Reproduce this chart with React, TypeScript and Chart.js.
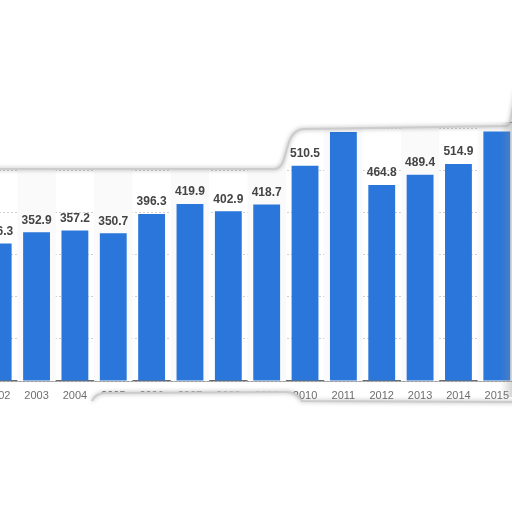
import { useEffect, useRef } from 'react';
import { Chart, registerables } from 'chart.js';

Chart.register(...registerables);

const YEARS = ['2002', '2003', '2004', '2005', '2006', '2007', '2008', '2009', '2010', '2011', '2012', '2013', '2014', '2015'];
const VALUES = [326.3, 352.9, 357.2, 350.7, 396.3, 419.9, 402.9, 418.7, 510.5, 590.6, 464.8, 489.4, 514.9, 592.1];
const Y_MAX = 700;
const Y_STEP = 100;

// the canvas is larger than the window and shifted, so the picture is a cut-out
const WRAP = { left: -22, top: 86, width: 539, height: 325 };

const PALETTE = {
  bar: '#2a76da',
  label: '#444444',
  tick: '#6f6f6f',
  axis: '#6a6a6a',
  grid: '#cfcfcf',
  stripe: '#fafafa',
  edge: '#cccccc',
} as const;

const stripes = {
  id: 'stripes',
  beforeDatasetsDraw(chart: Chart) {
    const { ctx, chartArea } = chart;
    const x = chart.scales.x;
    const band = chartArea.width / YEARS.length;
    ctx.save();
    ctx.fillStyle = PALETTE.stripe;
    YEARS.forEach((_, i) => {
      if (i % 2 === 1) ctx.fillRect(x.getPixelForValue(i) - band / 2, chartArea.top, band, chartArea.height);
    });
    ctx.restore();
  },
};

const valueLabels = {
  id: 'valueLabels',
  afterDatasetsDraw(chart: Chart) {
    const { ctx } = chart;
    const meta = chart.getDatasetMeta(0);
    ctx.save();
    ctx.font = 'bold 12px "Liberation Sans", Arial, sans-serif';
    ctx.fillStyle = PALETTE.label;
    ctx.textAlign = 'center';
    ctx.textBaseline = 'bottom';
    meta.data.forEach((el: any, i: number) => {
      ctx.fillText(VALUES[i].toFixed(1), el.x, el.y - 6);
    });
    ctx.restore();
  },
};

// torn-paper edges around the cut-out, drawn in window pixels
const tornEdges = {
  id: 'tornEdges',
  afterDraw(chart: Chart) {
    const { ctx } = chart;
    const topEdge = () => {
      ctx.moveTo(-5, 169);
      ctx.lineTo(274, 169);
      ctx.bezierCurveTo(290, 169, 282, 131, 303, 129);
      ctx.lineTo(507, 126);
      ctx.quadraticCurveTo(510, 126, 512, 112);
      ctx.lineTo(516, 90);
    };
    const bottomEdge = () => {
      ctx.moveTo(92, 401);
      ctx.quadraticCurveTo(95, 394, 104, 393);
      ctx.lineTo(286, 392);
      ctx.quadraticCurveTo(296, 392, 302, 401);
      ctx.lineTo(520, 402);
    };
    ctx.save();
    ctx.translate(-WRAP.left, -WRAP.top);

    ctx.fillStyle = '#ffffff';
    ctx.beginPath();
    topEdge();
    ctx.lineTo(520, -200);
    ctx.lineTo(-5, -200);
    ctx.closePath();
    ctx.fill();

    ctx.beginPath();
    bottomEdge();
    ctx.lineTo(520, 600);
    ctx.lineTo(92, 600);
    ctx.closePath();
    ctx.fill();

    ctx.strokeStyle = PALETTE.edge;
    ctx.lineWidth = 2;
    ctx.shadowColor = 'rgba(0,0,0,0.35)';
    ctx.shadowBlur = 4;
    ctx.beginPath();
    topEdge();
    ctx.stroke();
    ctx.beginPath();
    bottomEdge();
    ctx.stroke();

    ctx.shadowBlur = 0;
    const g = ctx.createLinearGradient(500, 0, 512, 0);
    g.addColorStop(0, 'rgba(140,140,140,0)');
    g.addColorStop(1, 'rgba(140,140,140,0.35)');
    ctx.fillStyle = g;
    ctx.fillRect(500, 122, 14, 275);
    ctx.restore();
  },
};

export default function App() {
  const canvasRef = useRef<HTMLCanvasElement>(null);

  useEffect(() => {
    if (!canvasRef.current) return;
    document.body.style.overflow = 'hidden';
    const chart = new Chart(canvasRef.current, {
      type: 'bar',
      data: {
        labels: YEARS,
        datasets: [
          {
            data: VALUES,
            backgroundColor: PALETTE.bar,
            categoryPercentage: 1,
            barPercentage: 0.7,
          },
        ],
      },
      options: {
        animation: false,
        responsive: true,
        maintainAspectRatio: false,
        layout: { padding: 0 },
        plugins: { legend: { display: false }, tooltip: { enabled: false } },
        scales: {
          x: {
            grid: { display: false, drawTicks: false },
            border: { display: true, color: PALETTE.axis, width: 1.5 },
            ticks: {
              color: PALETTE.tick,
              padding: 8,
              maxRotation: 0,
              autoSkip: false,
              font: { family: '"Liberation Sans", Arial, sans-serif', size: 11 },
            },
            afterFit: (scale: any) => {
              scale.height = 30;
            },
          },
          y: {
            min: 0,
            max: Y_MAX,
            ticks: { display: false, stepSize: Y_STEP },
            grid: { color: PALETTE.grid, drawTicks: false },
            border: { display: false, dash: [2, 2] },
            afterFit: (scale: any) => {
              scale.width = 0;
            },
          },
        },
      },
      plugins: [stripes, valueLabels, tornEdges],
    });
    return () => chart.destroy();
  }, []);

  return (
    <div
      style={{
        position: 'fixed',
        left: WRAP.left,
        top: WRAP.top,
        width: WRAP.width,
        height: WRAP.height,
        background: '#ffffff',
      }}
    >
      <canvas ref={canvasRef} />
    </div>
  );
}
